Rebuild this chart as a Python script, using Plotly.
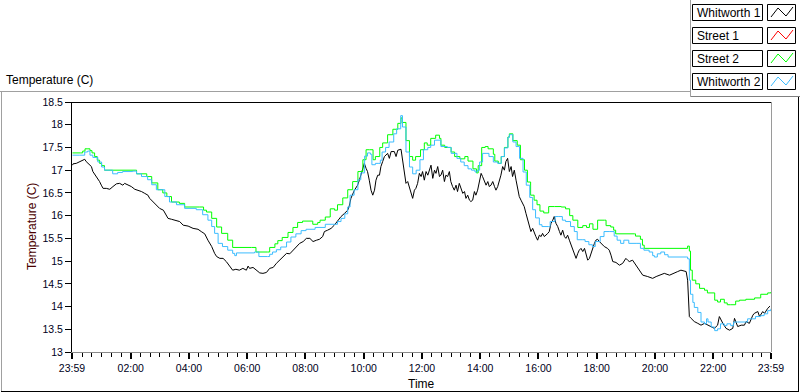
import plotly.graph_objects as go

# ---------------- data (hours after midnight; first point 23:59 of previous day = -1/60) ----------------
series_names = ["Whitworth 1", "Street 1", "Street 2", "Whitworth 2"]
series_colors = ["#000000", "#ff0000", "#00ff00", "#3cbcff"]

w1_hours = [0.0, 0.02, 0.13, 0.25, 0.31, 0.42, 0.47, 0.53, 0.65, 0.7, 0.82, 0.93, 0.99, 1.05, 1.16, 1.28, 1.39,
            1.51, 1.62, 1.73, 1.79, 1.91, 2.02, 2.14, 2.25, 2.37, 2.48, 2.59, 2.65, 2.76, 2.88, 2.99, 3.12, 3.23,
            3.28, 3.4, 3.51, 3.62, 3.68, 3.8, 3.97, 4.14, 4.31, 4.42, 4.54, 4.65, 4.78, 4.88, 4.95, 5.06, 5.17,
            5.28, 5.4, 5.5, 5.61, 5.73, 5.85, 5.97, 6.03, 6.08, 6.2, 6.32, 6.43, 6.54, 6.66, 6.77, 6.89, 7.0,
            7.12, 7.23, 7.35, 7.46, 7.57, 7.69, 7.8, 7.92, 8.03, 8.15, 8.26, 8.38, 8.48, 8.59, 8.65, 8.76, 8.88,
            8.99, 9.11, 9.22, 9.34, 9.45, 9.51, 9.56, 9.68, 9.79, 9.85, 9.91, 9.96, 10.02, 10.08, 10.13, 10.19,
            10.25, 10.31, 10.37, 10.42, 10.48, 10.54, 10.59, 10.65, 10.71, 10.82, 10.88, 10.94, 11.05, 11.11,
            11.17, 11.28, 11.34, 11.4, 11.45, 11.51, 11.57, 11.62, 11.68, 11.74, 11.79, 11.85, 11.91, 11.97,
            12.02, 12.08, 12.14, 12.2, 12.26, 12.31, 12.37, 12.43, 12.48, 12.54, 12.6, 12.65, 12.71, 12.77,
            12.82, 12.88, 12.94, 12.99, 13.05, 13.11, 13.17, 13.22, 13.28, 13.34, 13.4, 13.46, 13.51, 13.57,
            13.63, 13.68, 13.74, 13.8, 13.85, 13.91, 13.97, 14.03, 14.08, 14.14, 14.2, 14.26, 14.31, 14.37,
            14.43, 14.49, 14.54, 14.6, 14.66, 14.71, 14.77, 14.83, 14.88, 14.94, 15.0, 15.06, 15.11, 15.17,
            15.23, 15.28, 15.34, 15.4, 15.46, 15.51, 15.57, 15.63, 15.69, 15.74, 15.8, 15.86, 15.91, 15.97,
            16.03, 16.09, 16.14, 16.2, 16.26, 16.32, 16.37, 16.43, 16.49, 16.54, 16.6, 16.66, 16.72, 16.77,
            16.83, 16.89, 16.94, 17.0, 17.06, 17.12, 17.17, 17.23, 17.29, 17.35, 17.4, 17.46, 17.52, 17.58,
            17.63, 17.69, 17.75, 17.8, 17.86, 17.92, 17.97, 18.03, 18.09, 18.15, 18.2, 18.26, 18.37, 18.43,
            18.49, 18.55, 18.66, 18.78, 18.89, 19.0, 19.06, 19.12, 19.23, 19.35, 19.47, 19.58, 19.75, 19.92,
            20.04, 20.15, 20.32, 20.5, 20.67, 20.78, 20.89, 21.01, 21.07, 21.12, 21.16, 21.18, 21.24, 21.35,
            21.47, 21.58, 21.7, 21.81, 21.92, 22.04, 22.15, 22.21, 22.33, 22.44, 22.56, 22.67, 22.73, 22.84,
            22.96, 23.07, 23.13, 23.24, 23.36, 23.41, 23.53, 23.59, 23.7, 23.76, 23.87, 23.95]
w1_temp = [17.11, 17.14, 17.15, 17.19, 17.22, 17.24, 17.19, 17.15, 17.08, 16.97, 16.86, 16.75, 16.67, 16.6, 16.6,
           16.58, 16.64, 16.7, 16.71, 16.67, 16.71, 16.67, 16.64, 16.58, 16.56, 16.53, 16.49, 16.45, 16.38, 16.31,
           16.23, 16.16, 16.12, 16.01, 15.94, 15.92, 15.9, 15.89, 15.87, 15.79, 15.77, 15.72, 15.7, 15.65, 15.6,
           15.46, 15.32, 15.17, 15.1, 15.06, 15.06, 14.99, 14.88, 14.8, 14.82, 14.8, 14.84, 14.8, 14.89, 14.84,
           14.86, 14.8, 14.74, 14.73, 14.75, 14.84, 14.86, 14.95, 15.02, 15.1, 15.17, 15.16, 15.24, 15.32, 15.39,
           15.43, 15.5, 15.5, 15.43, 15.46, 15.48, 15.54, 15.65, 15.68, 15.72, 15.79, 15.9, 15.98, 16.05, 16.12,
           16.23, 16.38, 16.56, 16.67, 16.78, 16.93, 17.0, 17.15, 17.04, 16.97, 16.78, 16.56, 16.45, 16.56, 16.78,
           16.89, 16.89, 17.08, 17.19, 17.3, 17.37, 17.26, 17.41, 17.41, 17.3, 17.44, 17.46, 17.15, 16.86, 16.71,
           16.75, 16.6, 16.53, 16.38, 16.56, 16.6, 16.71, 16.93, 16.86, 16.97, 16.78, 16.97, 16.89, 17.04, 17.11,
           16.82, 17.0, 16.93, 17.08, 16.86, 16.89, 17.0, 16.75, 16.89, 16.86, 16.97, 16.75, 16.64, 16.56, 16.67,
           16.53, 16.71, 16.6, 16.49, 16.53, 16.38, 16.45, 16.34, 16.31, 16.34, 16.53, 16.45, 16.56, 16.78, 16.93,
           16.86, 16.75, 16.67, 16.75, 16.64, 16.67, 16.75, 16.64, 16.56, 16.64, 16.75, 16.89, 17.08, 17.0, 17.19,
           17.26, 16.97, 17.08, 16.86, 17.0, 16.78, 16.64, 16.42, 16.34, 16.27, 16.2, 16.05, 15.9, 15.76, 15.65,
           15.72, 15.61, 15.54, 15.46, 15.57, 15.54, 15.61, 15.54, 15.57, 15.61, 15.65, 15.83, 15.9, 15.98, 15.83,
           15.76, 15.65, 15.57, 15.68, 15.54, 15.5, 15.57, 15.46, 15.35, 15.28, 15.13, 15.06, 15.17, 15.24, 15.28,
           15.21, 15.28, 15.17, 15.02, 15.06, 15.17, 15.28, 15.39, 15.46, 15.48, 15.43, 15.39, 15.35, 15.32,
           15.28, 15.24, 15.13, 14.99, 14.97, 14.91, 14.95, 15.06, 15.02, 14.99, 15.02, 14.91, 14.8, 14.69, 14.66,
           14.62, 14.66, 14.69, 14.73, 14.69, 14.73, 14.77, 14.8, 14.77, 14.77, 14.58, 13.97, 13.78, 13.74, 13.67,
           13.63, 13.59, 13.63, 13.59, 13.56, 13.52, 13.59, 13.78, 13.63, 13.52, 13.48, 13.52, 13.74, 13.56,
           13.59, 13.59, 13.67, 13.63, 13.81, 13.85, 13.89, 13.78, 13.89, 13.85, 13.96, 14.01]

s1_hours = []
s1_temp = []

s2_hours = [0.0, 0.27, 0.35, 0.43, 0.53, 0.6, 0.67, 0.76, 0.85, 0.93, 1.0, 1.1, 2.15, 2.2, 2.55, 2.72, 2.93, 3.1,
            3.24, 3.4, 3.67, 3.85, 4.37, 4.5, 4.6, 4.78, 4.95, 5.12, 5.33, 5.5, 6.15, 6.3, 6.7, 6.77, 6.95, 7.05,
            7.2, 7.4, 7.57, 7.73, 7.9, 8.25, 8.42, 8.5, 8.68, 8.85, 9.0, 9.1, 9.28, 9.45, 9.62, 9.8, 9.97, 10.08,
            10.2, 10.32, 10.4, 10.55, 10.65, 10.82, 11.0, 11.17, 11.28, 11.33, 11.45, 11.57, 11.68, 11.78, 11.95,
            12.08, 12.18, 12.3, 12.47, 12.6, 12.65, 12.78, 13.0, 13.12, 13.3, 13.47, 13.58, 13.75, 13.87, 13.93,
            14.05, 14.17, 14.27, 14.45, 14.5, 14.62, 14.72, 14.83, 14.95, 15.0, 15.12, 15.27, 15.38, 15.52, 15.62,
            15.73, 15.85, 15.95, 16.05, 16.18, 16.35, 16.55, 16.78, 16.93, 17.07, 17.18, 17.35, 17.52, 17.65,
            17.75, 17.87, 18.03, 18.27, 18.32, 18.48, 18.58, 18.65, 19.3, 19.33, 19.5, 19.57, 19.63, 21.12, 21.18,
            21.22, 21.28, 21.4, 21.53, 21.7, 21.8, 22.05, 22.15, 22.25, 22.38, 22.48, 22.6, 22.77, 22.9, 23.12,
            23.42, 23.63, 23.87, 23.98]
s2_temp = [17.38, 17.38, 17.42, 17.47, 17.47, 17.43, 17.38, 17.3, 17.22, 17.15, 17.1, 17.0, 17.0, 16.92, 16.86,
           16.72, 16.57, 16.5, 16.42, 16.3, 16.27, 16.19, 16.19, 16.12, 16.08, 15.94, 15.75, 15.61, 15.46, 15.3,
           15.3, 15.2, 15.2, 15.3, 15.38, 15.45, 15.52, 15.63, 15.74, 15.85, 15.88, 15.81, 15.85, 15.9, 15.97,
           16.15, 16.12, 16.24, 16.39, 16.57, 16.75, 16.97, 17.23, 17.45, 17.45, 17.23, 17.3, 17.5, 17.6, 17.78,
           17.9, 18.03, 18.15, 18.05, 17.65, 17.3, 17.22, 17.3, 17.45, 17.6, 17.55, 17.7, 17.77, 17.7, 17.55,
           17.5, 17.4, 17.3, 17.25, 17.3, 17.2, 17.03, 16.94, 17.1, 17.5, 17.52, 17.47, 17.35, 17.2, 17.15, 17.3,
           17.5, 17.73, 17.8, 17.65, 17.55, 17.23, 17.0, 16.74, 16.45, 16.34, 16.24, 16.1, 16.06, 16.2, 16.2,
           16.19, 16.15, 16.0, 15.9, 15.74, 15.78, 15.74, 15.82, 15.7, 15.9, 15.9, 15.78, 15.75, 15.68, 15.6,
           15.6, 15.55, 15.48, 15.35, 15.28, 15.33, 15.22, 14.8, 14.58, 14.5, 14.4, 14.36, 14.3, 14.14, 14.1,
           14.16, 14.08, 14.04, 14.04, 14.12, 14.14, 14.16, 14.19, 14.27, 14.3, 14.32]

w2_hours = [0.0, 0.25, 0.42, 0.52, 0.6, 0.7, 0.87, 1.0, 1.1, 1.33, 1.38, 1.55, 1.72, 2.07, 2.2, 2.37, 2.58, 2.72,
            2.88, 3.17, 3.33, 3.57, 3.85, 4.25, 4.47, 4.65, 4.78, 4.88, 5.0, 5.15, 5.33, 5.5, 5.57, 5.63, 6.25,
            6.4, 6.7, 6.77, 6.87, 7.0, 7.15, 7.35, 7.5, 7.67, 7.85, 8.02, 8.33, 8.68, 9.1, 9.22, 9.35, 9.45, 9.53,
            9.67, 9.8, 9.9, 10.03, 10.13, 10.23, 10.28, 10.4, 10.52, 10.57, 10.63, 10.75, 10.87, 11.03, 11.13,
            11.27, 11.33, 11.45, 11.57, 11.68, 11.8, 11.93, 12.05, 12.2, 12.3, 12.43, 12.55, 12.65, 12.87, 13.0,
            13.2, 13.33, 13.45, 13.58, 13.7, 13.82, 13.9, 13.98, 14.08, 14.2, 14.3, 14.45, 14.6, 14.72, 14.83,
            14.95, 15.0, 15.12, 15.23, 15.35, 15.47, 15.58, 15.7, 15.8, 15.9, 16.03, 16.12, 16.35, 16.4, 16.57,
            16.7, 16.82, 16.93, 17.1, 17.23, 17.33, 17.5, 17.6, 17.73, 17.85, 17.95, 18.12, 18.25, 18.45, 18.6,
            18.7, 18.82, 18.93, 19.1, 19.38, 19.5, 19.62, 19.8, 19.92, 19.98, 20.08, 20.2, 20.33, 20.45, 21.07,
            21.12, 21.18, 21.22, 21.3, 21.35, 21.47, 21.58, 21.7, 21.77, 21.82, 21.93, 22.05, 22.15, 22.25, 22.38,
            22.47, 22.6, 22.7, 23.12, 23.18, 23.45, 23.63, 23.75, 23.87, 23.98]
w2_temp = [17.33, 17.33, 17.4, 17.42, 17.33, 17.28, 17.18, 17.07, 17.0, 17.0, 16.92, 16.95, 16.97, 16.98, 16.92,
           16.86, 16.79, 16.68, 16.57, 16.42, 16.3, 16.24, 16.16, 16.13, 16.02, 15.9, 15.76, 15.61, 15.39, 15.32,
           15.24, 15.17, 15.12, 15.18, 15.2, 15.1, 15.1, 15.15, 15.2, 15.25, 15.31, 15.42, 15.53, 15.6, 15.67,
           15.7, 15.74, 15.81, 15.87, 15.94, 16.04, 16.19, 16.45, 16.57, 16.79, 16.94, 17.31, 17.38, 17.35,
           17.12, 17.15, 17.15, 17.22, 17.4, 17.5, 17.62, 17.8, 17.91, 18.2, 17.95, 17.4, 17.07, 16.92, 17.0,
           17.23, 17.45, 17.5, 17.55, 17.66, 17.66, 17.52, 17.5, 17.37, 17.26, 17.18, 17.1, 17.03, 17.0, 16.96,
           17.0, 17.18, 17.37, 17.37, 17.3, 17.18, 17.15, 17.3, 17.49, 17.72, 17.78, 17.62, 17.52, 17.26, 16.96,
           16.67, 16.4, 16.13, 15.95, 15.8, 15.76, 15.76, 15.87, 15.98, 15.98, 15.9, 15.87, 15.76, 15.65, 15.47,
           15.47, 15.43, 15.36, 15.32, 15.43, 15.54, 15.65, 15.65, 15.55, 15.46, 15.39, 15.46, 15.39, 15.39,
           15.28, 15.24, 15.2, 15.12, 15.09, 15.16, 15.2, 15.14, 15.09, 15.09, 15.05, 14.58, 14.27, 14.09, 13.98,
           13.87, 13.66, 13.62, 13.73, 13.66, 13.55, 13.47, 13.51, 13.62, 13.58, 13.62, 13.58, 13.66, 13.66,
           13.73, 13.78, 13.8, 13.84, 13.91, 13.95]

x_tick_vals = [-1 / 60, 2, 4, 6, 8, 10, 12, 14, 16, 18, 20, 22, 24 - 1 / 60]
x_tick_text = ["23:59", "02:00", "04:00", "06:00", "08:00", "10:00", "12:00", "14:00", "16:00", "18:00",
               "20:00", "22:00", "23:59"]
y_tick_vals = [13, 13.5, 14, 14.5, 15, 15.5, 16, 16.5, 17, 17.5, 18, 18.5]

chart_title = "Temperature (C)"
y_title = "Temperature (C)"
x_title = "Time"

# ---------------- figure ----------------
W, H = 800, 392
L, R, T, B = 72, 771, 102, 352
FONT = "Liberation Sans, Arial, sans-serif"


def fx(p):
    return (p - L) / (R - L)


def fy(p):
    return (B - p) / (B - T)


all_hours = [w1_hours, s1_hours, s2_hours, w2_hours]
all_temp = [w1_temp, s1_temp, s2_temp, w2_temp]
shapes_kind = ["linear", "linear", "hv", "hv"]

fig = go.Figure()
for name, color, xs, ys, sh in zip(series_names, series_colors, all_hours, all_temp, shapes_kind):
    fig.add_trace(go.Scatter(x=xs, y=ys, mode="lines", name=name, hoverinfo="skip",
                             line=dict(color=color, width=1, shape=sh), showlegend=False))

shapes = []


def hline(y, x0, x1, color):
    shapes.append(dict(type="line", xref="paper", yref="paper", x0=fx(x0), x1=fx(x1), y0=fy(y), y1=fy(y),
                       line=dict(color=color, width=1), layer="above"))


def vline(x, y0, y1, color):
    shapes.append(dict(type="line", xref="paper", yref="paper", x0=fx(x), x1=fx(x), y0=fy(y0), y1=fy(y1),
                       line=dict(color=color, width=1), layer="above"))


# plot area borders (top black, right gray)
hline(T + 0.5, L, R, "#000000")
vline(R + 0.5, T, B, "#9a9a9a")

# outer panel frame
hline(91.5, 0, 690.5, "#a0a0a0")
vline(1.5, 91.5, 391.5, "#a0a0a0")
hline(391.5, 1, 799, "#000000")
vline(798.5, 96.5, 391.5, "#000000")
vline(690.5, 0, 96.5, "#a0a0a0")
hline(96.5, 690.5, 800, "#808080")

annotations = []
# legend boxes
row_tops = [4, 27, 50, 73]
for name, color, top in zip(series_names, series_colors, row_tops):
    shapes.append(dict(type="rect", xref="paper", yref="paper", x0=fx(692.5), x1=fx(762.5),
                       y0=fy(top + 0.5), y1=fy(top + 16.5), line=dict(color="#000000", width=1),
                       fillcolor="#ffffff", layer="above"))
    shapes.append(dict(type="rect", xref="paper", yref="paper", x0=fx(767.5), x1=fx(795.5),
                       y0=fy(top + 0.5), y1=fy(top + 16.5), line=dict(color="#000000", width=1),
                       fillcolor="#ffffff", layer="above"))
    pts = [(771, top + 13), (778, top + 4), (786, top + 12), (793, top + 3)]
    path = "M " + " L ".join(f"{fx(a)},{fy(b)}" for a, b in pts)
    shapes.append(dict(type="path", xref="paper", yref="paper", path=path,
                       line=dict(color=color, width=1), layer="above"))
    annotations.append(dict(text=name, xref="paper", yref="paper", x=fx(695), y=fy(top + 9),
                            xanchor="left", yanchor="middle", showarrow=False,
                            font=dict(family=FONT, size=12, color="#000000")))

annotations.append(dict(text=chart_title, xref="paper", yref="paper", x=fx(4), y=fy(80),
                        xanchor="left", yanchor="middle", showarrow=False,
                        font=dict(family=FONT, size=12, color="#000000")))
annotations.append(dict(text=y_title, xref="paper", yref="paper", x=fx(32), y=0.5, textangle=-90,
                        xanchor="center", yanchor="middle", showarrow=False,
                        font=dict(family=FONT, size=12, color="#4a0000")))
annotations.append(dict(text=x_title, xref="paper", yref="paper", x=0.5, y=fy(384),
                        xanchor="center", yanchor="middle", showarrow=False,
                        font=dict(family=FONT, size=12, color="#000000")))

fig.update_layout(
    width=W, height=H, autosize=False,
    margin=dict(l=L, r=W - R, t=T, b=H - B, pad=0),
    paper_bgcolor="#ffffff", plot_bgcolor="#ffffff",
    font=dict(family=FONT, size=11, color="#000000"),
    showlegend=False, hovermode=False,
    shapes=shapes, annotations=annotations,
    xaxis=dict(range=[-1 / 60 - 1e-6, 24 - 1 / 60 + 1e-6], tickmode="array", tickvals=x_tick_vals,
               ticktext=x_tick_text, ticks="outside", ticklen=6, tickwidth=2, tickcolor="#000000",
               showline=True, linecolor="#8a8a8a", linewidth=1, showgrid=False, zeroline=False,
               tickfont=dict(family=FONT, size=10.5, color="#000020"),
               minor=dict(tickmode="linear", tick0=0, dtick=1 / 3, ticks="outside", ticklen=4,
                          tickwidth=1, tickcolor="#000000", showgrid=False)),
    yaxis=dict(range=[13, 18.5], tickmode="array", tickvals=y_tick_vals, ticks="outside", ticklen=6,
               tickwidth=1, tickcolor="#000000", showline=True, linecolor="#000000", linewidth=1,
               showgrid=False, zeroline=False,
               tickfont=dict(family=FONT, size=10.5, color="#000020")),
)

fig.write_html("out.html", config={"displayModeBar": False, "staticPlot": True},
               post_script="document.body.style.margin='0';document.body.style.overflow='hidden';")
